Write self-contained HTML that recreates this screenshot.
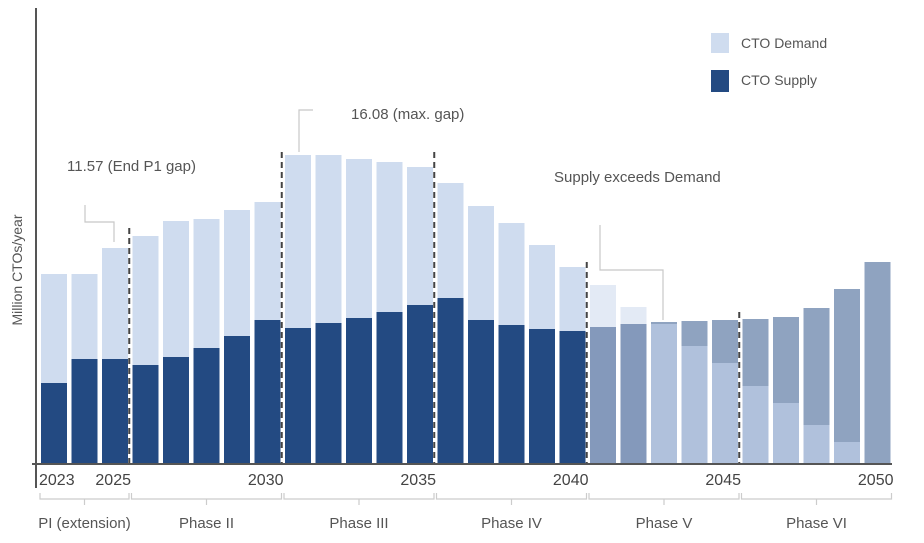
<!DOCTYPE html>
<html><head><meta charset="utf-8"><style>
body{margin:0;background:#fff;}
svg{display:block;font-family:"Liberation Sans",sans-serif;}
</style></head><body>
<svg id="chart" width="924" height="543" viewBox="0 0 924 543" xmlns="http://www.w3.org/2000/svg">
<g id="bars"></g>
<g id="ann" fill="none" stroke="#c8c8c8" stroke-width="1.2">
<polyline points="85,205 85,222 114,222 114,242"/>
<polyline points="313,110 299,110 299,152"/>
<polyline points="600,225 600,270 663,270 663,320"/>
</g>
<g id="dashes" stroke="#444" stroke-width="2" stroke-dasharray="6,4"></g>
<line x1="36" y1="8" x2="36" y2="488" stroke="#555" stroke-width="2"/>
<line x1="32" y1="464" x2="892" y2="464" stroke="#555" stroke-width="2"/>
<text x="22" y="270" transform="rotate(-90 22 270)" text-anchor="middle" font-size="14" fill="#555">Million CTOs/year</text>
<g id="xt" font-size="16" fill="#444"></g>
<g id="ph" font-size="15" fill="#555"></g>
<text x="67" y="171" font-size="15" fill="#555">11.57 (End P1 gap)</text>
<text x="351" y="119" font-size="15" fill="#555">16.08 (max. gap)</text>
<text x="554" y="182" font-size="15" fill="#555">Supply exceeds Demand</text>
<rect x="711" y="33" width="18" height="20" fill="#cfdcef"/>
<text x="741" y="48" font-size="14" fill="#555">CTO Demand</text>
<rect x="711" y="70" width="18" height="22" fill="#234a82"/>
<text x="741" y="85" font-size="14" fill="#555">CTO Supply</text>
</svg>
<script>
const years=[2023,2024,2025,2026,2027,2028,2029,2030,2031,2032,2033,2034,2035,2036,2037,2038,2039,2040,2041,2042,2043,2044,2045,2046,2047,2048,2049,2050];
const demand=[19.0,19.0,21.6,22.8,24.3,24.5,25.4,26.2,30.9,30.9,30.5,30.2,29.7,28.1,25.8,24.1,21.9,19.7,17.9,15.7,14.0,11.8,10.1,7.8,6.1,3.9,2.2,0];
const supply=[8.1,10.5,10.5,9.9,10.7,11.6,12.8,14.4,13.6,14.1,14.6,15.2,15.9,16.6,14.4,13.9,13.5,13.3,13.7,14.0,14.2,14.3,14.4,14.5,14.7,15.6,17.5,20.2];
const tickYears=[2023,2025,2030,2035,2040,2045,2050];
const phaseNames=["PI (extension)","Phase II","Phase III","Phase IV","Phase V","Phase VI"];
const phaseStart=[2023,2026,2031,2036,2041,2046];
const phaseEnd=[2025,2030,2035,2040,2045,2050];
const dividerYears=[2025.5,2030.5,2035.5,2040.5,2045.5];
const NS="http://www.w3.org/2000/svg";
const x0=41,step=30.5,bw=26,base=464,k=10;
const xs=y=>x0+(y-2023)*step;
const ys=v=>base-v*k;
function mk(t,a,p){const e=document.createElementNS(NS,t);for(const n in a)e.setAttribute(n,a[n]);p.appendChild(e);return e;}
const bars=document.getElementById('bars');
years.forEach((yr,i)=>{
  const late=yr>2040,d=demand[i],s=supply[i],x=xs(yr);
  let bigV,smallV,bigC,smallC,bigN,smallN;
  if(d>=s){bigV=d;smallV=s;bigC=late?'#e3eaf5':'#cfdcef';smallC=late?'#8499bb':'#234a82';bigN='demand';smallN='supply';}
  else{bigV=s;smallV=d;bigC='#8fa3c0';smallC='#b0c1dc';bigN='supply';smallN='demand';}
  const r1=mk('rect',{x:x,y:ys(bigV),width:bw,height:bigV*k,fill:bigC},bars);
  
  
  if(smallV>0){const r2=mk('rect',{x:x,y:ys(smallV),width:bw,height:smallV*k,fill:smallC},bars);
  
  }
});
const dg=document.getElementById('dashes');
const dTops=[228,152,152,262,312];
dividerYears.forEach((y,i)=>{const x=xs(y)+bw/2-1;
  const l=mk('line',{x1:x,y1:dTops[i],x2:x,y2:base},dg);
  
  });
const xt=document.getElementById('xt');
tickYears.forEach((y,i)=>{
  const first=i===0;
  const t=mk('text',{x:first?xs(y)-2:xs(y)+bw+3,y:485,'text-anchor':first?'start':'end'},xt);t.textContent=y;
  
  });
const ph=document.getElementById('ph');
phaseNames.forEach((n,i)=>{const a=xs(phaseStart[i])-1,b=xs(phaseEnd[i])+bw+1,m=(a+b)/2;
  const p=mk('path',{d:`M${a} 493 V499 H${b} V493 M${m} 499 V505`,fill:'none',stroke:'#ccc','stroke-width':1.2},ph);
  
  
  const t=mk('text',{x:m,y:528,'text-anchor':'middle'},ph);t.textContent=n;
  
  });
</script>
</body></html>
